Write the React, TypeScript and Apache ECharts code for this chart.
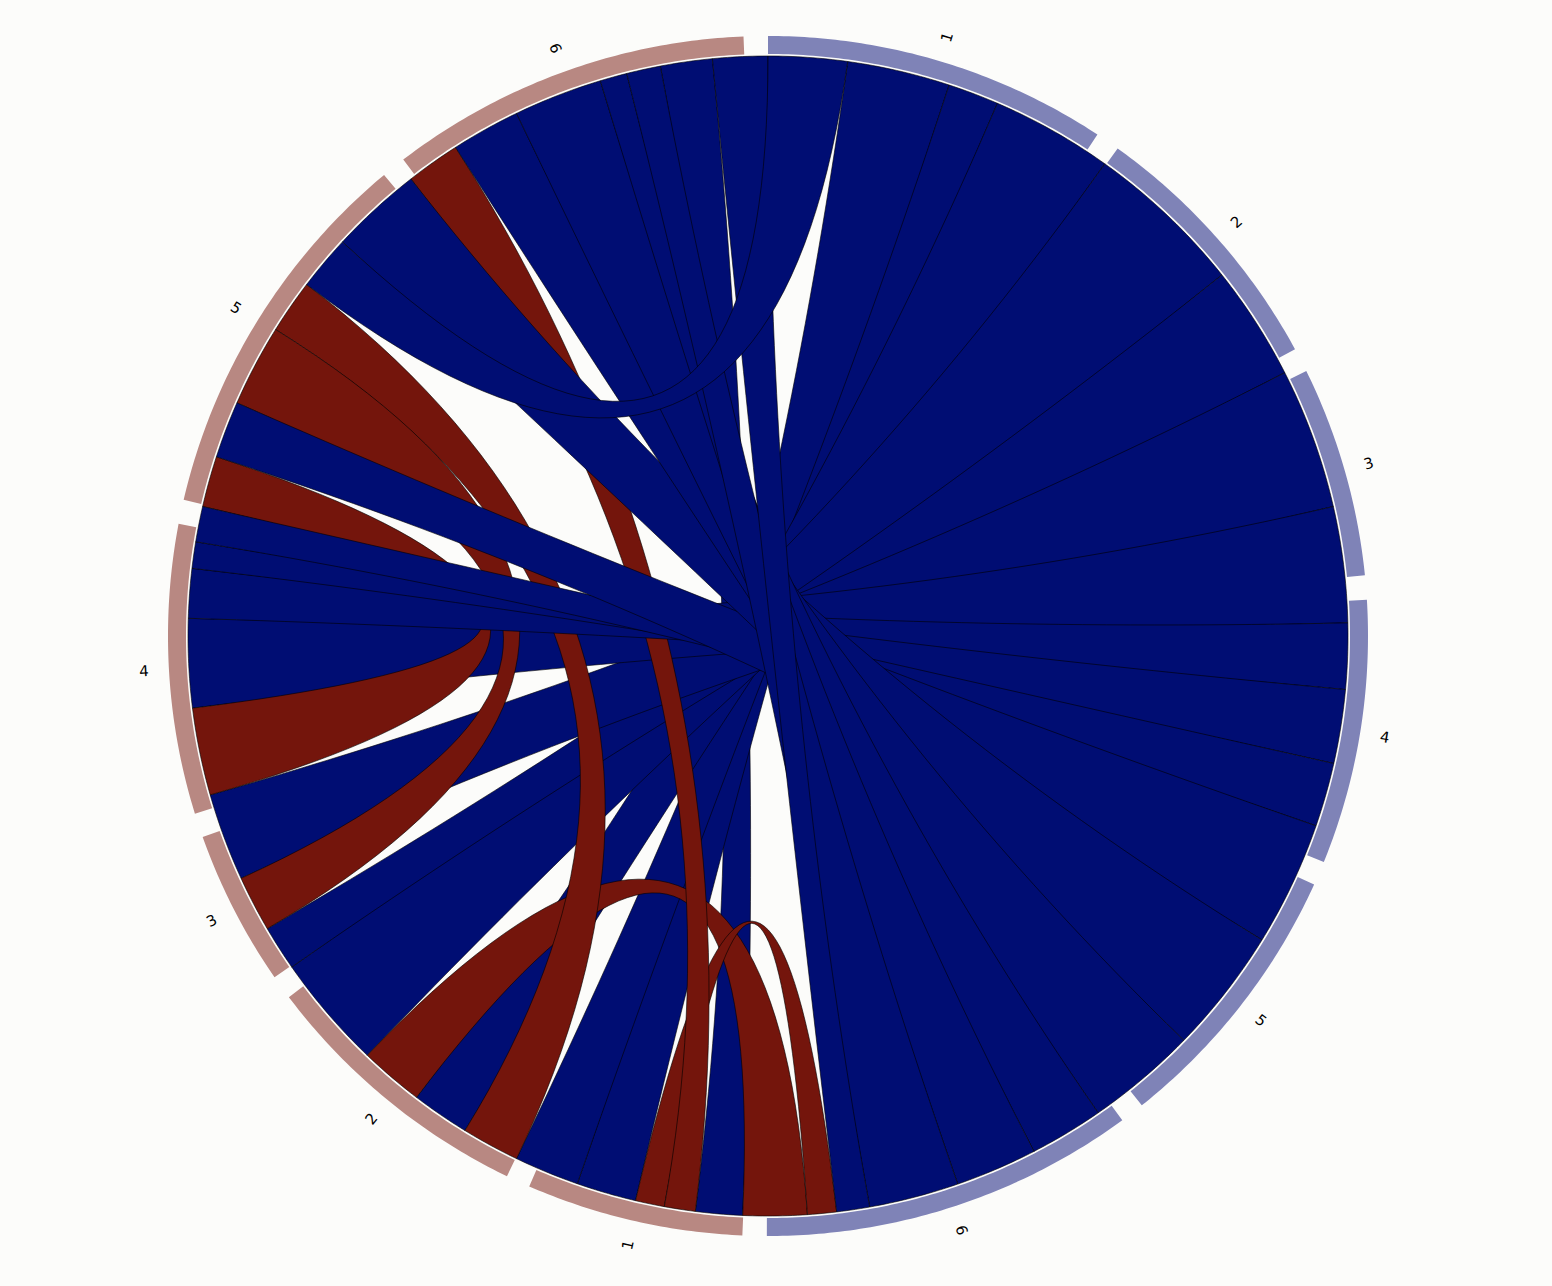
import { useEffect, useRef } from "react";
import * as echarts from "echarts";

// Sector labels (same for both halves)
const sectorLabels = ["1", "2", "3", "4", "5", "6"];
// Sector spans in degrees: right half (clockwise from top), then left half (clockwise from bottom)
const rightSectorSpans = [33.3, 25.8, 20.4, 25.6, 27.0, 36.3];
const leftSectorSpans = [21.0, 27.2, 15.1, 28.0, 37.1, 35.1];
const sectorGap = 2.34;

// Ribbon ends, in clockwise order starting at 12 o'clock, and their widths (degrees)
const endIds = [
  "a", "b", "c", "e", "f", "g", "h", "i", "j", "k", "l", "m", "n", "o", "p", "q", "r", "s", "t", "u", "v", "w", "x", "y", "z",
  "A", "B", "C", "D", "E", "F", "G", "H", "I", "J", "K",
  "L", "M", "N", "O", "P", "Q", "R", "S", "T", "U", "V", "W", "X", "Y", "Z",
  "a1", "b1", "c1", "d1", "e1", "f1", "g1", "h1", "i1", "j1", "k1", "l1", "m1", "n1", "o1",
];
const endWidths = [
  1.5, 6.4, 10.3, 5.1, 5.6, 6.6, 3.1, 2.7, 4.3, 5.9, 3.8, 7.7, 1.1, 9.4, 3.6, 1.7, 7.3, 2.6, 6.6, 5.7, 1.7, 2.9, 3.5, 5.0, 7.5,
  9.1, 3.5, 5.7, 3.8, 1.6, 7.4, 8.2, 9.0, 3.3, 2.9, 6.4,
  4.7, 3.1, 2.9, 6.0, 6.5, 5.8, 5.8, 6.4, 11.5, 4.5, 5.6, 8.8, 8.75, 8.9, 4.95,
  2.65, 3.55, 5.1, 5.7, 8.2, 5.4, 5.5, 9.2, 5.4, 6.9, 8.9, 2.7, 3.4, 5.2, 5.5,
];

// Links (drawn in this order). "x:y" means the run of ends from x to y.
const linkFrom = [
  "n1", "O", "P", "R", "T", "U", "W", "Y",
  "K", "N", "M", "Q", "V", "X",
  "Z", "a1", "b1", "d1", "h1", "j1", "k1", "l1", "m1",
  "o1", "g1",
];
const linkTo = [
  "L", "c", "e", "f:g", "h:k", "l:m", "n:p", "q:s",
  "S", "J", "i1", "f1", "e1", "c1",
  "t", "u:v", "w:x", "y:z", "A:B", "C:E", "F", "G", "H",
  "I", "a:b",
];
const linkKind = [
  "pos", "pos", "pos", "pos", "pos", "pos", "pos", "pos",
  "neg", "neg", "neg", "neg", "neg", "neg",
  "pos", "pos", "pos", "pos", "pos", "pos", "pos", "pos", "pos",
  "pos", "pos",
];

const COLORS = {
  pos: "#000D73",
  neg: "#74150C",
  rightArc: "#7F83B7",
  leftArc: "#B88882",
  bg: "#FCFCFA",
};

export default function App() {
  const ref = useRef<HTMLDivElement>(null);

  useEffect(() => {
    document.body.style.margin = "0";
    document.body.style.background = COLORS.bg;
    const chart = echarts.init(ref.current!, null, { renderer: "svg" });

    // ribbon end angles
    const totalW = endWidths.reduce((s, v) => s + v, 0);
    const endStart: Record<string, number> = {};
    const endEnd: Record<string, number> = {};
    let acc = 0;
    endIds.forEach((id, k) => {
      endStart[id] = (acc / totalW) * 360;
      acc += endWidths[k];
      endEnd[id] = (acc / totalW) * 360;
    });
    const span = (key: string): [number, number] => {
      const [p, q] = key.includes(":") ? key.split(":") : [key, key];
      return [endStart[p], endEnd[q]];
    };

    // sector angles
    const spans = [...rightSectorSpans, ...leftSectorSpans];
    const spanTotal = spans.reduce((s, v) => s + v, 0);
    const scale = (360 - sectorGap * spans.length) / spanTotal;
    const secStart: number[] = [];
    const secEnd: number[] = [];
    let a0 = 0;
    spans.forEach((s) => {
      secStart.push(a0);
      a0 += s * scale;
      secEnd.push(a0);
      a0 += sectorGap;
    });
    const secSide = spans.map((_, i) => (i < 6 ? "right" : "left"));
    const secLabel = spans.map((_, i) => sectorLabels[i % 6]);

    const R_CHORD = 580;
    const R_IN = 582;
    const R_OUT = 600;
    const R_LABEL = 625;

    const arcPoints = (api: any, r: number, from: number, to: number) => {
      const pts: number[][] = [];
      const n = Math.max(2, Math.ceil(Math.abs(to - from) / 0.5));
      for (let k = 0; k <= n; k++) {
        const a = from + ((to - from) * k) / n;
        pts.push(api.coord([r, a]));
      }
      return pts;
    };
    const bezier = (p0: number[], c: number[], p1: number[]) => {
      const pts: number[][] = [];
      const n = 48;
      for (let k = 1; k < n; k++) {
        const t = k / n;
        const u = 1 - t;
        pts.push([
          u * u * p0[0] + 2 * u * t * c[0] + t * t * p1[0],
          u * u * p0[1] + 2 * u * t * c[1] + t * t * p1[1],
        ]);
      }
      return pts;
    };

    const option: any = {
      animation: false,
      backgroundColor: COLORS.bg,
      polar: { center: [768, 636], radius: 600 },
      angleAxis: {
        type: "value",
        min: 0,
        max: 360,
        startAngle: 90,
        clockwise: true,
        show: false,
      },
      radiusAxis: { type: "value", min: 0, max: 600, show: false },
      series: [
        {
          type: "custom",
          name: "links",
          coordinateSystem: "polar",
          silent: true,
          data: linkFrom.map((_, i) => [300, 0, i]),
          renderItem: (_params: any, api: any) => {
            const i = api.value(2);
            let s1 = span(linkFrom[i]);
            let s2 = span(linkTo[i]);
            if (s1[0] > s2[0]) {
              const t = s1;
              s1 = s2;
              s2 = t;
            }
            const c = api.coord([0, 0]);
            const arc1 = arcPoints(api, R_CHORD, s1[0], s1[1]);
            const arc2 = arcPoints(api, R_CHORD, s2[0], s2[1]);
            const pts = [
              ...arc1,
              ...bezier(arc1[arc1.length - 1], c, arc2[0]),
              ...arc2,
              ...bezier(arc2[arc2.length - 1], c, arc1[0]),
            ];
            return {
              type: "polygon",
              shape: { points: pts },
              style: {
                fill: linkKind[i] === "neg" ? COLORS.neg : COLORS.pos,
                stroke: "#000000",
                lineWidth: 0.6,
              },
            };
          },
        },
        {
          type: "custom",
          name: "sectors",
          coordinateSystem: "polar",
          silent: true,
          data: spans.map((_, i) => [300, 0, i]),
          renderItem: (_params: any, api: any) => {
            const i = api.value(2);
            const outer = arcPoints(api, R_OUT, secStart[i], secEnd[i]);
            const inner = arcPoints(api, R_IN, secStart[i], secEnd[i]).reverse();
            return {
              type: "polygon",
              shape: { points: [...outer, ...inner] },
              style: {
                fill: secSide[i] === "right" ? COLORS.rightArc : COLORS.leftArc,
                stroke: "none",
              },
            };
          },
        },
        {
          type: "custom",
          name: "labels",
          coordinateSystem: "polar",
          silent: true,
          data: spans.map((_, i) => [300, 0, i]),
          renderItem: (_params: any, api: any) => {
            const i = api.value(2);
            const mid = (secStart[i] + secEnd[i]) / 2;
            const p = api.coord([R_LABEL, mid]);
            let rotDeg = mid - 90;
            if (mid > 180) rotDeg = mid - 270;
            return {
              type: "text",
              x: p[0],
              y: p[1],
              rotation: (-rotDeg * Math.PI) / 180,
              style: {
                text: secLabel[i],
                fill: "#000000",
                font: '15px "DejaVu Sans", sans-serif',
                align: "center",
                verticalAlign: "middle",
              },
            };
          },
        },
      ],
    };

    chart.setOption(option);
    return () => chart.dispose();
  }, []);

  return <div ref={ref} style={{ width: 1552, height: 1286 }} />;
}
